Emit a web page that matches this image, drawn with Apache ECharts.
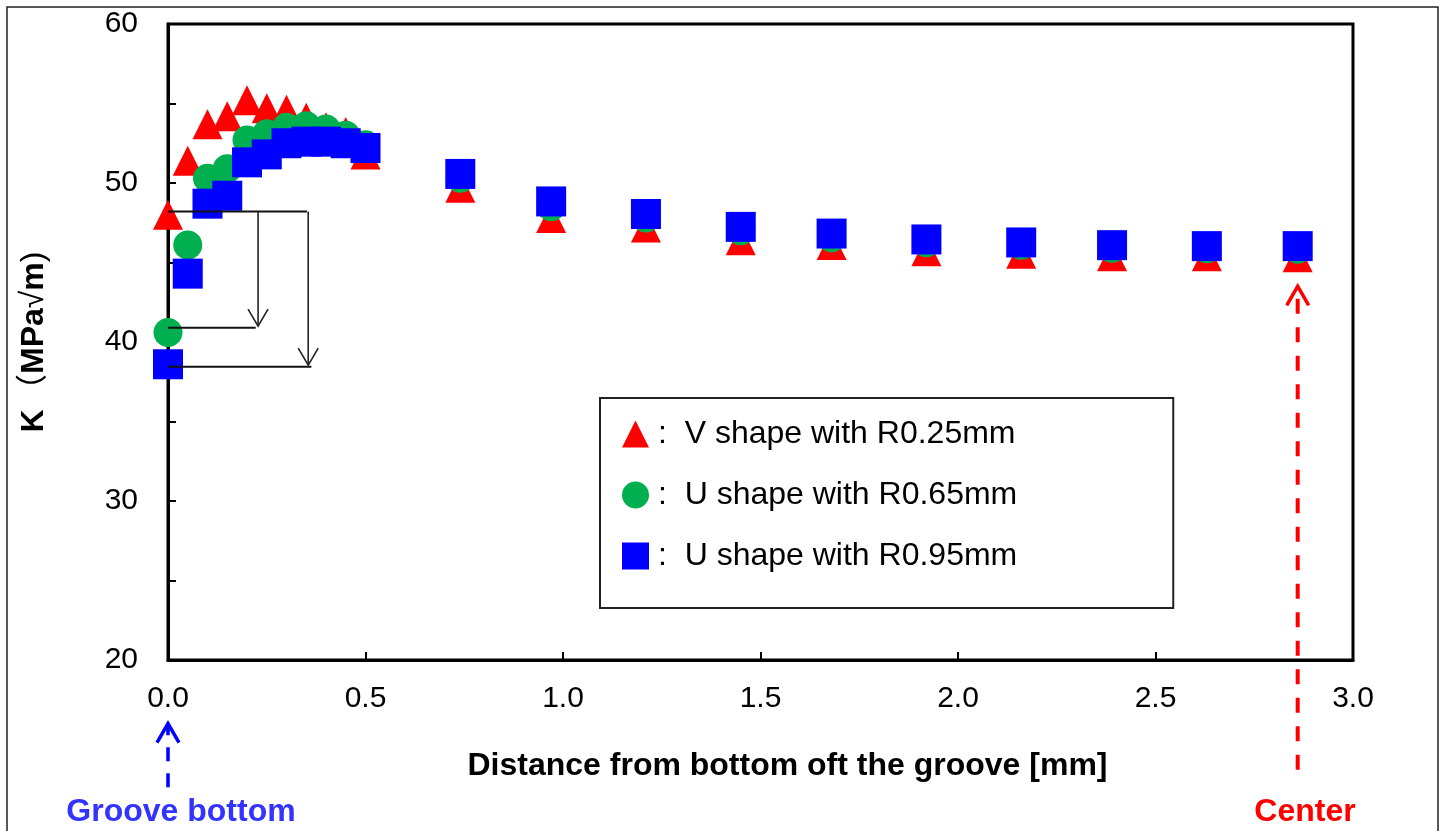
<!DOCTYPE html>
<html>
<head>
<meta charset="utf-8">
<script src="https://cdn.jsdelivr.net/npm/echarts@6/dist/echarts.min.js"></script>
<style>
  html, body { margin: 0; padding: 0; background: #ffffff; }
  #chart { width: 1445px; height: 831px; }
</style>
</head>
<body>
<div id="chart"></div>
<script>
// Distance from the groove bottom [mm]
const distance = [0, 0.05, 0.10, 0.15, 0.20, 0.25, 0.30, 0.35, 0.40, 0.45, 0.50,
                  0.74, 0.97, 1.21, 1.45, 1.68, 1.92, 2.16, 2.39, 2.63, 2.86];

// Stress intensity K [MPa√m] for each groove shape
const kV025 = [48.0, 51.4, 53.7, 54.2, 55.2, 54.7, 54.6, 54.1, 53.5, 53.2, 51.8,
               49.7, 47.8, 47.2, 46.4, 46.1, 45.7, 45.55, 45.4, 45.4, 45.33];
const kU065 = [40.6, 46.1, 50.3, 50.9, 52.7, 53.1, 53.5, 53.6, 53.4, 53.0, 52.4,
               50.3, 48.5, 47.8, 47.0, 46.56, 46.25, 46.08, 45.9, 45.87, 45.83];
const kU095 = [38.6, 44.3, 48.7, 49.2, 51.3, 51.8, 52.5, 52.6, 52.6, 52.5, 52.2,
               50.57, 48.84, 48.05, 47.24, 46.82, 46.45, 46.26, 46.09, 46.03, 46.03];

const seriesNames = ['V shape with R0.25mm', 'U shape with R0.65mm', 'U shape with R0.95mm'];

// Axis labels
const yLabelValues = [20, 30, 40, 50, 60];
const xTitle = 'Distance from bottom oft the groove [mm]';

// Guide lines showing the drop of K at the groove bottom: [x1, y1, x2, y2]
const guideSegments = [
  [0, 48.2, 0.352, 48.2],
  [0, 40.9, 0.222, 40.9],
  [0, 38.45, 0.363, 38.45]
];
// Vertical arrows: [x, yStart, yTip]
const guideArrows = [
  [0.228, 48.2, 41.0],
  [0.355, 48.2, 38.55]
];
const grooveArrow = [[0, 12.0, 16.0]];
const centerArrow = [[2.86, 13.1, 43.5]];

const chart = echarts.init(document.getElementById('chart'), null, { renderer: 'canvas' });
const FONT = "'Liberation Sans', Arial, sans-serif";

function arrowSeries(data, opts) {
  return {
    type: 'custom',
    clip: false,
    silent: true,
    z: 10,
    encode: { x: 0, y: [1, 2] },
    data: data,
    renderItem: function (params, api) {
      const x = api.value(0);
      const p0 = api.coord([x, api.value(1)]);
      const p1 = api.coord([x, api.value(2)]);
      const dir = p1[1] < p0[1] ? 1 : -1; // +1 when pointing up
      const hw = opts.headHalf, hl = opts.headLen;
      return {
        type: 'group',
        children: [
          { type: 'line', shape: { x1: p0[0], y1: p0[1], x2: p1[0], y2: p1[1] },
            style: { stroke: opts.color, lineWidth: opts.width, lineDash: opts.dash || null } },
          { type: 'polyline',
            shape: { points: [[p1[0] - hw, p1[1] + dir * hl], [p1[0], p1[1]], [p1[0] + hw, p1[1] + dir * hl]] },
            style: { stroke: opts.color, lineWidth: opts.headWidth, fill: null } }
        ]
      };
    }
  };
}

const option = {
  backgroundColor: '#ffffff',
  animation: false,
  textStyle: { fontFamily: FONT },
  grid: {
    left: 168, top: 24, right: 92, bottom: 171,
    show: true, borderColor: '#000', borderWidth: 3, containLabel: false
  },
  legend: {
    left: 600, top: 398,
    orient: 'vertical',
    selectedMode: false,
    padding: [20, 156, 36, 22],
    itemWidth: 27, itemHeight: 27, itemGap: 29,
    borderColor: '#222', borderWidth: 2,
    backgroundColor: '#fff',
    formatter: ':  {name}',
    textStyle: { fontSize: 32, color: '#000', fontFamily: FONT, padding: [0, 0, 0, 4] },
    data: seriesNames
  },
  xAxis: {
    type: 'value',
    min: 0, max: 3, interval: 0.5,
    name: xTitle,
    nameLocation: 'middle',
    nameGap: 90,
    nameTextStyle: { fontSize: 32, fontWeight: 'bold', color: '#000', fontFamily: FONT,
                     padding: [0, 0, 0, 54] },
    axisLine: { show: true, lineStyle: { color: '#000', width: 3 } },
    axisTick: { show: true, inside: true, length: 8, lineStyle: { color: '#000', width: 2 } },
    axisLabel: { fontSize: 30, color: '#000', margin: 24, fontFamily: FONT,
                 formatter: v => v.toFixed(1) },
    splitLine: { show: false }
  },
  yAxis: {
    type: 'value',
    min: 20, max: 60, interval: 5,
    name: '{b|K} {n|（}{b|MPa}{n|√}{b|m}{n|)}',
    nameLocation: 'middle',
    nameGap: 118,
    nameTextStyle: {
      rich: {
        b: { fontSize: 32, fontWeight: 'bold', color: '#000', fontFamily: FONT },
        n: { fontSize: 32, color: '#000', fontFamily: "'Liberation Sans', 'Noto Sans CJK JP', sans-serif" }
      }
    },
    axisLine: { show: true, lineStyle: { color: '#000', width: 3 } },
    axisTick: { show: true, inside: true, length: 8, lineStyle: { color: '#000', width: 2 } },
    axisLabel: { fontSize: 30, color: '#000', margin: 30, fontFamily: FONT,
                 formatter: v => (yLabelValues.indexOf(v) >= 0 ? String(v) : '') },
    splitLine: { show: false }
  },
  series: [
    { type: 'scatter', name: seriesNames[0], symbol: 'triangle', symbolSize: 30,
      itemStyle: { color: '#ff0000', opacity: 1 },
      data: distance.map((x, i) => [x, kV025[i]]) },
    { type: 'scatter', name: seriesNames[1], symbol: 'circle', symbolSize: 29,
      itemStyle: { color: '#00b050', opacity: 1 },
      data: distance.map((x, i) => [x, kU065[i]]) },
    { type: 'scatter', name: seriesNames[2], symbol: 'rect', symbolSize: 30,
      itemStyle: { color: '#0000ff', opacity: 1 },
      data: distance.map((x, i) => [x, kU095[i]]) },
    {
      type: 'custom', clip: false, silent: true, z: 10,
      encode: { x: [0, 2], y: [1, 3] },
      data: guideSegments,
      renderItem: function (params, api) {
        const a = api.coord([api.value(0), api.value(1)]);
        const b = api.coord([api.value(2), api.value(3)]);
        return { type: 'line', shape: { x1: a[0], y1: a[1], x2: b[0], y2: b[1] },
                 style: { stroke: '#111', lineWidth: 2 } };
      }
    },
    arrowSeries(guideArrows, { color: '#222', width: 1.6, headWidth: 1.6, headHalf: 10, headLen: 17 }),
    arrowSeries(grooveArrow, { color: '#0000ff', width: 3.5, headWidth: 3.5, headHalf: 11, headLen: 19, dash: [14, 12] }),
    arrowSeries(centerArrow, { color: '#ff0000', width: 4, headWidth: 3.5, headHalf: 11, headLen: 19, dash: [15, 13.5] })
  ],
  graphic: [
    { type: 'rect', silent: true, z: -10,
      shape: { x: 7, y: 7, width: 1431, height: 880 },
      style: { fill: null, stroke: '#222', lineWidth: 1.5 } },
    { type: 'text', silent: true, x: 181, y: 812,
      style: { text: 'Groove bottom', fill: '#3333ff', font: "bold 32px 'Liberation Sans', Arial, sans-serif",
               align: 'center', verticalAlign: 'middle' } },
    { type: 'text', silent: true, x: 1305, y: 812,
      style: { text: 'Center', fill: '#ff0000', font: "bold 32px 'Liberation Sans', Arial, sans-serif",
               align: 'center', verticalAlign: 'middle' } }
  ]
};

chart.setOption(option);
</script>
</body>
</html>
